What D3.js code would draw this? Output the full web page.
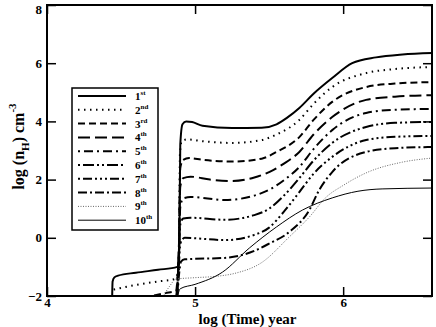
<!DOCTYPE html>
<html>
<head>
<meta charset="utf-8">
<script src="https://cdn.jsdelivr.net/npm/d3@7"></script>
<style>
  body { margin: 0; background: #fff; }
  svg { display: block; font-family: 'Liberation Serif', 'Times New Roman', serif; font-weight: bold; }
</style>
</head>
<body>
<svg width="436" height="327"></svg>
<script>
const WIDTH = 436;
const HEIGHT = 327;

// x = log(Time) [yr], y = log(nH) [cm^-3]
const xTicks = [4, 5, 6];
const yTicks = [-2, 0, 2, 4, 6, 8];
const labels = ['1', '2', '3', '4', '5', '6', '7', '8', '9', '10'];
const suffixes = ['st', 'nd', 'rd', 'th', 'th', 'th', 'th', 'th', 'th', 'th'];

const curve1 = [[4.44, -2.05], [4.443, -1.5], [4.455, -1.36], [4.48, -1.3], [4.6, -1.2], [4.75, -1.1], [4.88, -1.0],
  [4.893, -0.4], [4.9, 3.2], [4.915, 3.9], [4.94, 4.0], [4.98, 3.98], [5.05, 3.85], [5.25, 3.77], [5.45, 3.78],
  [5.55, 3.9], [5.62, 4.12], [5.704, 4.46], [5.8, 4.95], [5.926, 5.49], [6.061, 6.0], [6.222, 6.2], [6.4, 6.3], [6.6, 6.35]];
const curve2 = [[4.45, -1.78], [4.6, -1.62], [4.75, -1.5], [4.86, -1.42], [4.89, -1.1], [4.898, 2.9], [4.91, 3.33],
  [4.95, 3.38], [5.05, 3.32], [5.25, 3.26], [5.45, 3.36], [5.55, 3.55], [5.704, 4.05], [5.8, 4.6], [5.926, 5.18],
  [6.155, 5.66], [6.35, 5.8], [6.6, 5.87]];
const curve3 = [[4.65, -2.05], [4.8, -1.9], [4.87, -1.82], [4.89, -0.5], [4.9, 2.4], [4.92, 2.68], [4.96, 2.74],
  [5.05, 2.68], [5.25, 2.62], [5.45, 2.72], [5.55, 2.95], [5.704, 3.46], [5.8, 4.05], [5.926, 4.67], [6.155, 5.18],
  [6.35, 5.3], [6.6, 5.35]];
const curve4 = [[4.872, -2.05], [4.89, -0.5], [4.9, 1.75], [4.92, 2.05], [4.97, 2.1], [5.1, 2.0], [5.25, 1.95],
  [5.4, 2.07], [5.5, 2.26], [5.6, 2.55], [5.704, 2.95], [5.8, 3.55], [5.926, 4.15], [6.155, 4.74], [6.35, 4.85], [6.6, 4.9]];
const curve5 = [[4.874, -2.05], [4.89, -0.6], [4.9, 1.05], [4.92, 1.35], [4.97, 1.4], [5.2, 1.3], [5.4, 1.45],
  [5.5, 1.65], [5.6, 1.98], [5.704, 2.43], [5.8, 3.05], [5.926, 3.7], [6.155, 4.29], [6.35, 4.4], [6.6, 4.43]];
const curve6 = [[4.876, -2.05], [4.89, -0.8], [4.9, 0.45], [4.92, 0.66], [4.97, 0.69], [5.2, 0.62], [5.4, 0.78],
  [5.5, 1.0], [5.6, 1.45], [5.704, 2.05], [5.8, 2.65], [5.926, 3.26], [6.155, 3.81], [6.35, 3.95], [6.6, 3.98]];
const curve7 = [[4.878, -2.05], [4.89, -1.0], [4.9, -0.2], [4.93, 0.0], [5.2, -0.08], [5.4, 0.1], [5.5, 0.35],
  [5.6, 0.9], [5.704, 1.57], [5.8, 2.2], [5.926, 2.78], [6.155, 3.36], [6.35, 3.47], [6.6, 3.5]];
const curve8 = [[4.88, -2.05], [4.893, -1.2], [4.905, -0.82], [4.93, -0.74], [5.2, -0.69], [5.4, -0.45], [5.5, -0.2],
  [5.636, 0.2], [5.771, 0.95], [5.838, 1.64], [5.926, 2.26], [6.155, 2.95], [6.35, 3.08], [6.6, 3.12]];
const curve9 = [[4.78, -2.05], [4.83, -1.65], [4.87, -1.42], [5.0, -1.37], [5.15, -1.32], [5.27, -1.22], [5.45, -0.85],
  [5.636, 0.03], [5.771, 0.71], [5.886, 1.4], [6.0, 1.8], [6.155, 2.23], [6.4, 2.6], [6.6, 2.74]];
const curve10 = [[4.88, -2.05], [4.9, -1.75], [5.0, -1.6], [5.185, -1.18], [5.367, -0.35], [5.549, 0.37],
  [5.724, 0.95], [5.926, 1.37], [6.1, 1.6], [6.263, 1.68], [6.6, 1.71]];

const curves = [curve1, curve2, curve3, curve4, curve5, curve6, curve7, curve8, curve9, curve10];

const styles = [
  {width: 2, dash: null, color: '#000'},
  {width: 2, dash: '1.5,4.5', color: '#000'},
  {width: 2, dash: '7,4', color: '#000'},
  {width: 2, dash: '12,5', color: '#000'},
  {width: 2, dash: '2,4,9,4', color: '#000'},
  {width: 2, dash: '2,3,11,3,2,3', color: '#000'},
  {width: 2, dash: '2,3,9,3,2,3,2,3', color: '#000'},
  {width: 2, dash: '9,3,2,3,9,3,2,3', color: '#000'},
  {width: 1, dash: '1,1.5', color: '#666'},
  {width: 1, dash: null, color: '#000'},
];

const margin = {top: 5, right: 4, bottom: 31, left: 47};
const width = WIDTH - margin.left - margin.right;
const height = HEIGHT - margin.top - margin.bottom;

const x = d3.scaleLinear().domain([4, 6.6]).range([0, width]);
const y = d3.scaleLinear().domain([-2, 8]).range([height, 0]);

const svg = d3.select('svg');
const g = svg.append('g').attr('transform', `translate(${margin.left}, ${margin.top})`);

g.append('clipPath').attr('id', 'clip')
  .append('rect').attr('width', width).attr('height', height);

const line = d3.line()
  .x((d) => x(d[0]))
  .y((d) => y(d[1]))
  .curve(d3.curveMonotoneX);

g.append('g').attr('clip-path', 'url(#clip)')
  .selectAll('path')
  .data(curves)
  .join('path')
  .attr('fill', 'none')
  .attr('stroke', (_, i) => styles[i].color)
  .attr('stroke-width', (_, i) => styles[i].width)
  .attr('stroke-dasharray', (_, i) => styles[i].dash)
  .attr('d', line);

// axes, ticks pointing inward on all four sides
const tickLen = 9;
const axisStyle = (sel) => {
  sel.select('.domain').remove();
  sel.selectAll('.tick line').attr('stroke', '#000').attr('stroke-width', 1.5);
  sel.selectAll('.tick text').attr('font-size', 13).attr('font-weight', 'bold')
    .attr('font-family', "'Liberation Serif', serif").attr('fill', '#000');
};

g.append('g')
  .attr('transform', `translate(0, ${height})`)
  .call(d3.axisBottom(x).tickValues(xTicks).tickSizeInner(-tickLen).tickSizeOuter(0).tickPadding(2).tickFormat(d3.format('d')))
  .call(axisStyle);
g.append('g')
  .call(d3.axisTop(x).tickValues(xTicks).tickSizeInner(-tickLen).tickSizeOuter(0).tickFormat(''))
  .call(axisStyle);
g.append('g')
  .call(d3.axisLeft(y).tickValues(yTicks).tickSizeInner(-tickLen).tickSizeOuter(0).tickPadding(5).tickFormat(d3.format('d')))
  .call(axisStyle)
  .selectAll('.tick text')
  .attr('dy', (d) => (d === 8 ? '0.65em' : '0.32em'));
g.append('g')
  .attr('transform', `translate(${width}, 0)`)
  .call(d3.axisRight(y).tickValues(yTicks).tickSizeInner(-tickLen).tickSizeOuter(0).tickFormat(''))
  .call(axisStyle);

g.append('rect')
  .attr('width', width).attr('height', height)
  .attr('fill', 'none').attr('stroke', '#000').attr('stroke-width', 2);

// axis labels
g.append('text')
  .attr('x', width / 2 + 8)
  .attr('y', height + 28)
  .attr('text-anchor', 'middle')
  .attr('font-size', 15)
  .text('log (Time) year');

const yl = g.append('text')
  .attr('transform', 'rotate(-90)')
  .attr('x', -height / 2 + 4)
  .attr('y', -margin.left + 24)
  .attr('text-anchor', 'middle')
  .attr('font-size', 16);
yl.append('tspan').text('log (n');
yl.append('tspan').attr('font-size', 11).attr('dy', 5).text('H');
yl.append('tspan').attr('dy', -5).text(') cm');
yl.append('tspan').attr('font-size', 11).attr('dy', -8).text('-3');

// legend
const legend = svg.append('g').attr('transform', 'translate(72, 88)');
legend.append('rect')
  .attr('width', 86).attr('height', 142)
  .attr('fill', '#fff').attr('stroke', '#000').attr('stroke-width', 1.5);

const rows = legend.selectAll('.row')
  .data(labels)
  .join('g')
  .attr('class', 'row')
  .attr('transform', (_, i) => `translate(0, ${8 + i * 13.8})`);

rows.append('line')
  .attr('x1', 6).attr('x2', 54)
  .attr('stroke', (_, i) => styles[i].color)
  .attr('stroke-width', (_, i) => styles[i].width)
  .attr('stroke-dasharray', (_, i) => styles[i].dash);

const rowText = rows.append('text')
  .attr('x', 63).attr('y', 4)
  .attr('font-size', 11);
rowText.append('tspan').text((d) => d);
rowText.append('tspan').attr('font-size', 7).attr('dy', -5).text((_, i) => suffixes[i]);
</script>
</body>
</html>
